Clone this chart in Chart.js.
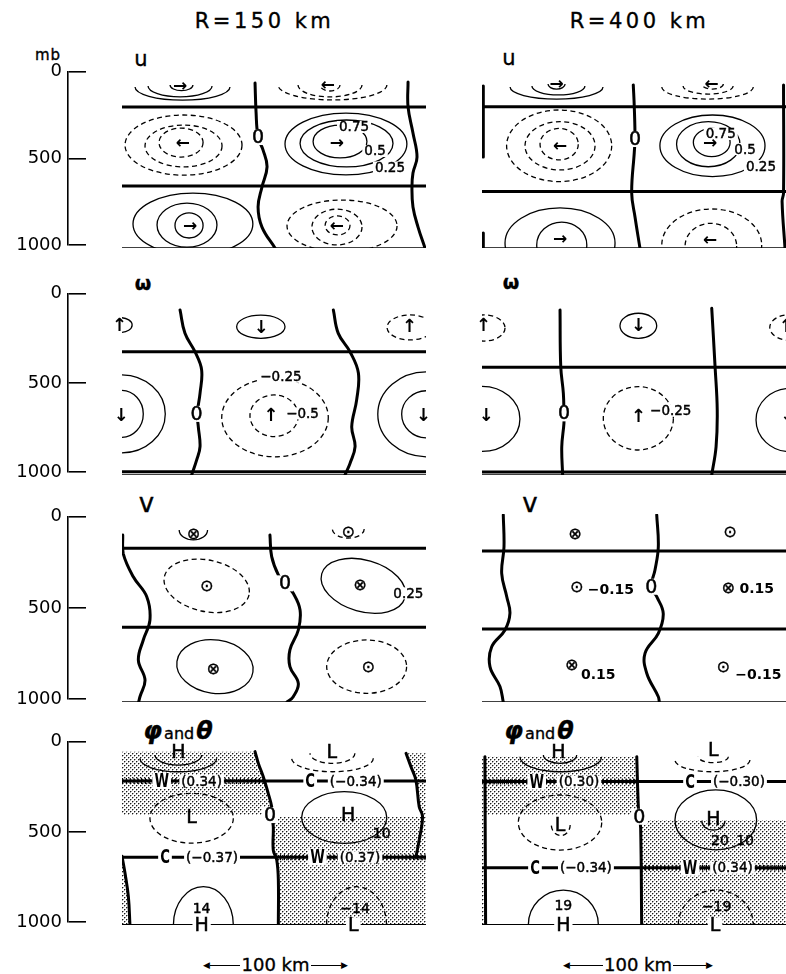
<!DOCTYPE html>
<html><head><meta charset="utf-8">
<script src="https://cdn.jsdelivr.net/npm/chart.js@4.4.1/dist/chart.umd.min.js"></script>
<style>
html,body{margin:0;padding:0;background:#fff;}
body{width:786px;height:974px;overflow:hidden;position:relative;font-family:"DejaVu Sans",sans-serif;color:#000;}
canvas{position:absolute;}
.t{position:absolute;white-space:nowrap;line-height:1;transform:translate(-50%,-50%);-webkit-text-stroke:0.35px #000;}
</style></head><body>
<script>
// ---------------- DATA (km along x, mb down) ----------------
const columnTitles = ['R=150 km', 'R=400 km'];
const panelNames = ['u', 'ω', 'v', 'φ and θ'];
const pressureUnit = 'mb';
const pressureTicks = [0, 500, 1000];
const distanceRange = [0, 210];
const scaleText = '100 km';

// u, R=150
const u150_nodes = [212, 654];
const u150_floor = [1000];
const u150_zero = [
 [[91.9,78],[92.6,240],[94,380],[97.4,452],[100.2,547],[96.7,659],[94,771],[96.7,883],[105.7,1000]],
 [[197.6,73],[197.6,212],[201,358],[203.8,492],[201,581],[200.3,659],[201,771],[204.5,883],[209.3,1000]]
];
const u150_contours = [ // km, mb, half-width km, half-depth mb, sign, part, tilt
 [41.8,101,32.8,73,1,'lower',0],[40.1,95,22.1,61,1,'lower',0],[41.1,89,7.9,32,1,'lower',0],
 [145.4,89,37.6,84,-1,'lower',0],[143.7,89,22.1,67,-1,'lower',0],[143.7,89,6.9,34,-1,'lower',0],
 [42.5,425,40.4,168,-1,'full',0],[42.5,430,26.6,117,-1,'full',0],[40.8,411,15.2,81,-1,'full',0],
 [154.7,419,42.1,173,1,'full',0],[155.1,416,32.1,131,1,'full',0],[150.6,405,18.6,92,1,'full',0],
 [49,866,41.4,173,1,'full',0],[44.9,872,20.7,123,1,'full',0],[46.3,874,9.7,70,1,'full',0],
 [152,877,38,145,-1,'full',0],[148.5,883,17.3,100,-1,'full',0],[148.9,874,8.6,53,-1,'full',0]
];
const u150_labels = [
 [94,380,'0','zero'],
 [160.3,324,'0.75','value'],[174.8,458,'0.5','value'],[185.1,550,'0.25','value'],
 [40.1,92,'→','arrow'],[142.3,89,'←','arrow'],[42.1,413,'←','arrow'],[148.5,413,'→','arrow'],
 [47,872,'→','arrow'],[148.5,872,'←','arrow']
];

// u, R=400
const u400_nodes = [211, 685];
const u400_floor = [1000];
const u400_zero = [
 [[0.9,95],[0.9,492]],
 [[0.9,916],[0.9,1000]],
 [[104.5,89],[105.2,212],[105.7,391],[105.2,464],[103.4,693],[105.7,827],[109.1,1000]],
 [[208.3,89],[208.3,693],[207.3,740],[209.3,1000]]
];
const u400_contours = [
 [51.5,101,32.1,67,1,'lower',0],[52.8,95,18.3,50,1,'lower',0],[51.5,84,5.9,28,1,'lower',0],
 [155.8,101,31.6,67,-1,'lower',0],[156.2,95,17.3,45,-1,'lower',0],[159.2,84,7.5,28,-1,'lower',0],
 [53.3,429,36.3,200,-1,'full',0],[53.9,429,24.2,135,-1,'full',0],[53.3,420,13.2,88,-1,'full',0],
 [159.2,429,36.3,172,1,'full',0],[156.3,420,21.9,126,1,'full',0],[158.7,411,12.7,79,1,'full',0],
 [53.9,972,38,196,1,'full',0],[55.1,983,17.3,128,1,'full',0],
 [158.7,983,34.5,201,-1,'full',0],[158.1,989,17.8,127,-1,'full',0]
];
const u400_labels = [
 [105.7,391,'0','zero'],
 [164.9,363,'0.75','value'],[181.7,447,'0.5','value'],[192.7,542,'0.25','value'],
 [51.6,80,'→','arrow'],[158.7,80,'←','arrow'],[53.9,430,'←','arrow'],[157.5,412,'→','arrow'],
 [53.9,946,'→','arrow'],[157.5,951,'←','arrow']
];

// omega, R=150
const w150_nodes = [330, 982];
const w150_floor = [1000];
const w150_zero = [
 [[40.1,103],[43.5,230],[50.4,330],[55,429],[53.9,556],[52,668],[52.7,737],[53.9,846],[51.6,918],[48.1,1000]],
 [[146,103],[149.4,230],[157.5,330],[163.3,446],[162.1,592],[158.7,737],[161,846],[157.5,937],[154,1000]]
];
const w150_contours = [
 [-1,185,8,40,1,'full',0],[95.9,194,16.7,63,1,'full',0],[199,198,15.9,68,-1,'full',0],
 [105.7,688,36.8,213,-1,'full',0],[105.1,678,16.7,113,-1,'full',0],
 [-0.5,668,30.4,212,1,'full',0],[-0.5,668,15.2,128,1,'full',0],
 [210.5,670,33.8,231,1,'full',0],[210.5,670,17.3,128,1,'full',0]
];
const w150_labels = [
 [51.5,668,'0','zero'],
 [109.8,466,'−0.25','value'],[124.7,665,'−0.5','value'],
 [-1.9,185,'↑','arrow'],[96,196,'↓','arrow'],[198.5,194,'↑','arrow'],[102.7,674,'↑','arrow'],
 [-0.7,674,'↓','arrow'],[208.1,674,'↓','arrow']
];

// omega, R=400
const w400_nodes = [415, 984];
const w400_floor = [1000];
const w400_zero = [
 [[53.9,103],[54.4,411],[56.2,556],[56.6,665],[56.6,719],[55.1,846],[55.7,1000]],
 [[158.7,94],[161,411],[162.5,647],[161.7,846],[158.7,1000]]
];
const w400_contours = [
 [1.4,201,14.5,71,-1,'full',0],[108,189,12.7,68,1,'full',0],[212.8,198,14,70,-1,'full',0],
 [108,692,24.2,172,-1,'full',0],[0,695,26.2,177,1,'full',0],[212.8,701,23.5,172,1,'full',0]
];
const w400_labels = [
 [56.6,665,'0','zero'],
 [130.4,651,'−0.25','value'],
 [0.9,185,'↑','arrow'],[108,189,'↓','arrow'],[210,190,'↑','arrow'],[108,683,'↑','arrow'],
 [2.8,674,'↓','arrow'],[211,674,'↓','arrow']
];

// v, R=150
const v150_nodes = [182, 603];
const v150_floor = [1000];
const v150_zero = [
 [[0.5,112],[0.8,209],[7.8,334],[17.1,440],[19.3,564],[14.7,670],[11.3,777],[15.9,883],[12.4,972],[11.5,1000]],
 [[102.2,112],[103.4,227],[108,324],[112.6,369],[118.3,422],[123,511],[121.8,617],[116,723],[116,812],[121.8,901],[118.3,972],[114,1000]]
];
const v150_contours = [
 [49.3,85,9.8,53,1,'lower',0],[156.3,80,11,48,-1,'lower',0],
 [58.5,382,29.9,137,-1,'full',12],[166.7,382,29.9,137,1,'full',16],
 [64.2,812,26.5,142,1,'full',8],[169,812,27.6,142,-1,'full',0]
];
const v150_labels = [
 [112.6,369,'0','zero'],
 [197.8,422,'0.25','value'],
 [49.3,103,'⊗','symbol'],[156.3,94,'⊙','symbol'],[58.5,383,'⊙','symbol'],[164.4,378,'⊗','symbol'],
 [63,821,'⊗','symbol'],[170,812,'⊙','symbol']
];

// v, R=400
const v400_nodes = [197, 612];
const v400_floor = [1000];
const v400_zero = [
 [[14.7,5],[15.2,174],[13.6,316],[17.1,440],[19.3,529],[15.9,617],[6.7,706],[5.5,812],[12.4,918],[14.7,1000]],
 [[120.7,5],[121.8,174],[119.5,298],[116.9,387],[120.7,440],[125.2,529],[121.8,635],[112.6,741],[113.8,847],[121.8,972],[122.5,1000]]
];
const v400_contours = [];
const v400_labels = [
 [116.9,387,'0','zero'],
 [64.2,103,'⊗','symbol'],[171.3,94,'⊙','symbol'],
 [65.4,387,'⊙','symbol'],[89,399,'−0.15','valueB'],
 [170.1,395,'⊗','symbol'],[189.8,394,'0.15','valueB'],
 [62,803,'⊗','symbol'],[80.3,851,'0.15','valueB'],
 [166.7,812,'⊙','symbol'],[190.9,851,'−0.15','valueB']
];

// phi and theta, R=150
const p150_nodes = [226, 636];
const p150_floor = [1000];
const p150_warm = [[0,98.5,226],[106.5,210,636]];
const p150_zero = [
 [[91.9,68],[94.2,131],[97.6,203],[101,292],[103.4,364],[103.4,409],[104.5,472],[104.5,597],[106.9,651],[108,758],[108,1000]],
 [[196.2,77],[199.6,149],[203,220],[205.3,364],[207.6,417],[205.3,543],[203,636]],
 [[0,630],[2.1,722],[4.4,848],[5.5,1000]]
];
const p150_shade = [
 [[0,68],[91.9,68],[94.2,131],[97.6,203],[101,292],[103.4,364],[103.4,409],[0,409]],
 [[196.2,77],[210,77],[210,1000],[108,1000],[108,758],[106.9,651],[104.5,597],[104.5,472],[104,420],[207.6,420],[205.3,364],[203,220],[199.6,149]],
 [[0,630],[2.1,722],[4.4,848],[5.5,1000],[0,1000]]
];
const p150_contours = [
 [38.9,104,26.5,72,1,'lower',0],[38.9,86,16.1,54,1,'lower',0],
 [145.4,104,28.2,72,-1,'lower',0],[145.4,77,15.5,54,-1,'lower',0],
 [48.1,426,28.8,134,-1,'full',0],[153.5,422,29.4,139,1,'full',0],
 [56.2,1000,20.7,206,1,'upper',0],[162,1000,20.7,206,-1,'upper',0]
];
const p150_labels = [
 [102.2,409,'0','zero'],
 [38.9,68,'H','centre'],[144.9,68,'L','centre'],[48.1,418,'L','centre'],[156.3,409,'H','centre'],
 [179.4,505,'10','number'],[55,910,'14','number'],[161,910,'−14','number'],
 [55,1000,'H','base'],[159.8,1000,'L','base'],
 [27.4,226,'W','front'],[55,226,'(0.34)','bracket'],[130,226,'C','front'],[161.5,226,'(−0.34)','bracket'],
 [29.7,636,'C','front'],[62.2,636,'(−0.37)','bracket'],[135,636,'W','front'],[164.4,636,'(0.37)','bracket']
];

// phi and theta, R=400
const p400_nodes = [229, 692];
const p400_floor = [1000];
const p400_warm = [[2,108,229],[110,210,692]];
const p400_zero = [
 [[2,95],[2.5,1000]],
 [[106.9,95],[108,364],[108.7,418],[109.6,480],[110.3,1000]]
];
const p400_shade = [
 [[0,95],[106.9,95],[108,364],[108.3,409],[0,409]],
 [[0,409],[2.3,409],[2.5,1000],[0,1000]],
 [[109.2,435],[210,435],[210,1000],[110.3,1000]]
];
const p400_contours = [
 [54.4,95,28.2,81,1,'lower',0],[53.9,86,11.5,45,1,'lower',0],
 [159.2,113,25.9,63,-1,'lower',0],[159.8,95,10.4,32,-1,'lower',0],
 [53.9,449,28.8,148,-1,'full',0],[54.4,462,6.5,57,-1,'lower',0],
 [161.5,435,28.2,161,1,'full',0],[159.8,440,8,50,1,'lower',0],
 [56.2,1000,24.2,188,1,'upper',0],[161.5,1000,25.9,188,-1,'upper',0]
];
const p400_labels = [
 [108.7,418,'0','zero'],
 [52.7,68,'H','centre'],[159.8,59,'L','centre'],[53.9,462,'L','centre'],[159.8,432,'H','centre'],
 [164.4,543,'20','number'],[181.7,543,'10','number'],[56.2,892,'19','number'],[162.1,902,'−19','number'],
 [56.2,1000,'H','base'],[161,1000,'L','base'],
 [37.8,229,'W','front'],[67,229,'(0.30)','bracket'],[143.7,229,'C','front'],[177.5,229,'(−0.30)','bracket'],
 [36.6,692,'C','front'],[71.8,692,'(−0.34)','bracket'],[143.7,692,'W','front'],[173,692,'(0.34)','bracket']
];

// ---------------- LAYOUT ----------------
const COLS = [122, 482];
const ROWS = [[69,248],[291,475],[514,702],[739,925]];
const PW = 304, PAD = 8;
const TITLE_POS = [[262.5,21],[637.5,21]];
const NAME_POS = [[[141,61],[509,60]],[[143,283],[511,282]],[[146.5,506],[530,506]],[[178,731],[539,731]]];
const SCALE_POS = [[203,348,965],[563,713,965]];

const STYLE = {
 zero:{font:'19px "DejaVu Sans"', bg:true, h:16, stroke:0.5},
 value:{font:'13.5px "DejaVu Sans"', bg:true, h:12, stroke:0.45},
 valueB:{font:'bold 14px "DejaVu Sans"'},
 arrow:{font:'bold 17px "DejaVu Sans"'},
 symbol:{font:'16px "DejaVu Sans"', stroke:0.4},
 centre:{font:'19px "DejaVu Sans"', stroke:0.5},
 number:{font:'14px "DejaVu Sans"', stroke:0.45},
 base:{font:'19px "DejaVu Sans"', bg:true, h:15, stroke:0.5},
 front:{font:'bold 20px "DejaVu Sans"', bg:true, h:16, sx:0.66},
 bracket:{font:'13.5px "DejaVu Sans"', bg:true, h:12, stroke:0.45}
};

const tile = document.createElement('canvas');
tile.width = 4; tile.height = 4;
(function(){
 const g = tile.getContext('2d');
 g.fillStyle = '#fff'; g.fillRect(0,0,4,4);
 g.fillStyle = '#1a1a1a'; g.fillRect(0,0,1,1); g.fillRect(2,2,1,1);
 g.fillStyle = '#a8a8a8'; g.fillRect(1,0,1,1); g.fillRect(0,1,1,1); g.fillRect(3,2,1,1); g.fillRect(2,3,1,1);
})();

const FIG = new WeakMap();
const figPlugin = {
 id:'fig',
 beforeDatasetsDraw(chart){
  const o = FIG.get(chart.canvas); if(!o || !o.shade) return;
  const {ctx, chartArea:a, scales:{x,y}} = chart;
  ctx.save(); ctx.beginPath(); ctx.rect(a.left,a.top,a.width,a.height); ctx.clip();
  ctx.fillStyle = ctx.createPattern(tile,'repeat');
  o.shade.forEach(poly=>{
   ctx.beginPath();
   poly.forEach(([k,p],i)=>{const X=x.getPixelForValue(k),Y=y.getPixelForValue(p); if(i) ctx.lineTo(X,Y); else ctx.moveTo(X,Y);});
   ctx.closePath(); ctx.fill();
  });
  ctx.restore();
 },
 afterDatasetsDraw(chart){
  const o = FIG.get(chart.canvas); if(!o) return;
  const {ctx, chartArea:a, scales:{x,y}} = chart;
  ctx.save(); ctx.beginPath(); ctx.rect(a.left,a.top-2,a.width,a.height+2); ctx.clip();
  ctx.strokeStyle = '#000'; ctx.lineWidth = 1.3;
  (o.contours||[]).forEach(([k,p,rk,rp,sign,part,tilt])=>{
   const cx=x.getPixelForValue(k), cy=y.getPixelForValue(p);
   const rx=Math.abs(x.getPixelForValue(k+rk)-cx), ry=Math.abs(y.getPixelForValue(p+rp)-cy);
   const ang = part==='lower'?[0,Math.PI]:part==='upper'?[Math.PI,2*Math.PI]:[0,2*Math.PI];
   ctx.setLineDash(sign<0?[5,3.5]:[]);
   ctx.beginPath(); ctx.ellipse(cx,cy,rx,ry,tilt*Math.PI/180,ang[0],ang[1]); ctx.stroke();
  });
  ctx.restore();
  ctx.save(); ctx.textAlign='center'; ctx.textBaseline='middle';
  (o.labels||[]).forEach(([k,p,t,kind])=>{
   const s = STYLE[kind]; const X=x.getPixelForValue(k), Y=y.getPixelForValue(p);
   let font = s.font;
   if(kind==='arrow' && (t==='↑'||t==='↓')) font = 'bold 18px "DejaVu Sans"';
   ctx.font = font;
   const sx = s.sx||1;
   const w = ctx.measureText(t).width*sx;
   if(s.bg){ ctx.fillStyle='#fff'; ctx.fillRect(X-w/2-2, Y-s.h/2, w+4, s.h); }
   ctx.fillStyle='#000'; ctx.strokeStyle='#000'; ctx.setLineDash([]);
   ctx.save(); ctx.translate(X,Y); ctx.scale(sx,1); ctx.fillText(t,0,1);
   if(s.stroke){ ctx.lineWidth=s.stroke; ctx.strokeText(t,0,1); }
   ctx.restore();
  });
  ctx.restore();
 }
};

function seg(pts,w,dash){
 return {data:pts.map(([k,p])=>({x:k,y:p})),showLine:true,borderColor:'#000',borderWidth:w,
  borderDash:dash||[],borderCapStyle:'butt',pointRadius:0,tension:0,fill:false};
}

function panel(col,row,cfg){
 const L=COLS[col], T=ROWS[row][0], B=ROWS[row][1];
 const cv=document.createElement('canvas');
 cv.width=PW+2*PAD; cv.height=B-T+2*PAD;
 cv.style.left=(L-PAD)+'px'; cv.style.top=(T-PAD)+'px';
 document.body.appendChild(cv);
 FIG.set(cv,cfg);
 const X0=distanceRange[0], X1=distanceRange[1];
 const ds=[];
 cfg.nodes.forEach(p=>ds.push(seg([[X0,p],[X1,p]],3)));
 (cfg.floor||[]).forEach(p=>ds.push(seg([[X0,p],[X1,p]],row===3?2.2:1.6)));
 (cfg.warm||[]).forEach(([a,b,p])=>ds.push(seg([[a,p],[b,p]],6,[1.2,2.6])));
 cfg.zero.forEach(pts=>{const d=seg(pts,3); d.tension=0.4; d.borderCapStyle='round'; ds.push(d);});
 new Chart(cv,{type:'scatter',data:{datasets:ds},options:{responsive:false,animation:false,devicePixelRatio:1,
  events:[],layout:{padding:PAD},
  scales:{x:{type:'linear',min:X0,max:X1,display:false},y:{type:'linear',min:0,max:1000,reverse:true,display:false}},
  plugins:{legend:{display:false},tooltip:{enabled:false}}},plugins:[figPlugin]});
}

function axis(row){
 const T=ROWS[row][0], B=ROWS[row][1], P=14;
 const cv=document.createElement('canvas');
 cv.width=92; cv.height=B-T+2*P; cv.style.left='0px'; cv.style.top=(T-P)+'px';
 document.body.appendChild(cv);
 new Chart(cv,{type:'scatter',data:{datasets:[]},options:{responsive:false,animation:false,devicePixelRatio:1,events:[],
  layout:{padding:{top:P,bottom:P,left:0,right:6}},
  scales:{
   x:{type:'linear',display:false,min:0,max:1},
   y:{type:'linear',min:0,max:1000,reverse:true,
    afterFit:s=>{s.width=68;},
    afterBuildTicks:s=>{s.ticks=pressureTicks.map(v=>({value:v}));},
    ticks:{font:{family:'DejaVu Sans',size:18},color:'#000',padding:6,callback:v=>String(v)},
    grid:{display:true,drawOnChartArea:true,drawTicks:false,color:'#000',lineWidth:1.6},
    border:{display:true,color:'#000',width:1.6}}
  },
  plugins:{legend:{display:false},tooltip:{enabled:false}}}});
}

function addText(txt,cx,cy,css){
 const d=document.createElement('div'); d.className='t'; d.textContent=txt;
 d.style.left=cx+'px'; d.style.top=cy+'px'; Object.assign(d.style,css||{});
 document.body.appendChild(d); return d;
}

// titles
columnTitles.forEach((t,i)=>addText(t,TITLE_POS[i][0]+2,TITLE_POS[i][1],{fontSize:'21px',letterSpacing:'3.5px'}));
addText(pressureUnit,48,55,{fontSize:'15px',letterSpacing:'1px'});

// panel names
panelNames.forEach((n,r)=>{
 [0,1].forEach(c=>{
  const [cx,cy]=NAME_POS[r][c];
  if(r===3){
   const parts=n.split(' ');
   const d=addText('',cx,cy,{});
   parts.forEach((p,i)=>{const s=document.createElement('span'); s.textContent=p;
    if(i===1){s.style.fontSize='16px'; s.style.margin='0 2px';}
    else {s.style.fontSize='24px'; s.style.fontWeight='bold'; s.style.fontStyle='italic';}
    d.appendChild(s);});
  } else if(r===1){
   addText(n,cx,cy,{fontSize:'19px',fontWeight:'bold'});
  } else if(r===2){
   addText(n,cx,cy-3,{fontSize:'26px'});
  } else {
   addText(n,cx,cy-2,{fontSize:'21px'});
  }
 });
});

// scale bars
SCALE_POS.forEach(([x0,x1,y])=>{
 const d=document.createElement('div');
 Object.assign(d.style,{position:'absolute',left:x0+'px',top:(y-9)+'px',width:(x1-x0)+'px',height:'18px',display:'flex',alignItems:'center'});
 const mk=(t,css)=>{const s=document.createElement('span'); s.textContent=t; Object.assign(s.style,css); d.appendChild(s);};
 mk('◀',{fontSize:'9px'});
 mk('',{flex:'1',borderTop:'1.4px solid #000',height:'0'});
 mk(scaleText,{fontSize:'18px',margin:'0 1px',lineHeight:'1',WebkitTextStroke:'0.35px #000'});
 mk('',{flex:'1',borderTop:'1.4px solid #000',height:'0'});
 mk('▶',{fontSize:'9px'});
 document.body.appendChild(d);
});

[0,1,2,3].forEach(axis);
panel(0,0,{nodes:u150_nodes,floor:u150_floor,zero:u150_zero,contours:u150_contours,labels:u150_labels});
panel(1,0,{nodes:u400_nodes,floor:u400_floor,zero:u400_zero,contours:u400_contours,labels:u400_labels});
panel(0,1,{nodes:w150_nodes,floor:w150_floor,zero:w150_zero,contours:w150_contours,labels:w150_labels});
panel(1,1,{nodes:w400_nodes,floor:w400_floor,zero:w400_zero,contours:w400_contours,labels:w400_labels});
panel(0,2,{nodes:v150_nodes,floor:v150_floor,zero:v150_zero,contours:v150_contours,labels:v150_labels});
panel(1,2,{nodes:v400_nodes,floor:v400_floor,zero:v400_zero,contours:v400_contours,labels:v400_labels});
panel(0,3,{nodes:p150_nodes,floor:p150_floor,warm:p150_warm,zero:p150_zero,shade:p150_shade,contours:p150_contours,labels:p150_labels});
panel(1,3,{nodes:p400_nodes,floor:p400_floor,warm:p400_warm,zero:p400_zero,shade:p400_shade,contours:p400_contours,labels:p400_labels});
</script></body></html>
